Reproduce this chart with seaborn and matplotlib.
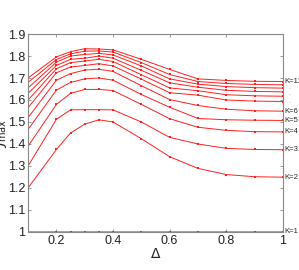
import numpy as np
import pandas as pd
import matplotlib
matplotlib.use("Agg")
import matplotlib.pyplot as plt
import seaborn as sns

# Delta sample points and J_max for each K
delta = [0.1, 0.2, 0.25, 0.3, 0.35, 0.4, 0.5, 0.6, 0.7, 0.8, 0.9, 1.0]
k_values = [1, 2, 3, 4, 5, 6, 7, 8, 9, 10, 11, 12]
j1 = [1.0, 1.0, 1.0, 1.0, 1.0, 1.0, 1.0, 1.0, 1.0, 1.0, 1.0, 1.0]
j2 = [1.20, 1.375, 1.45, 1.49, 1.51, 1.50, 1.424, 1.342, 1.289, 1.261, 1.251, 1.249]
j3 = [1.30, 1.512, 1.555, 1.556, 1.556, 1.555, 1.50, 1.43, 1.40, 1.38, 1.375, 1.374]
j4 = [1.39, 1.58, 1.63, 1.648, 1.648, 1.643, 1.58, 1.515, 1.476, 1.462, 1.456, 1.455]
j5 = [1.466, 1.645, 1.68, 1.696, 1.70, 1.69, 1.625, 1.567, 1.516, 1.51, 1.508, 1.507]
j6 = [1.52, 1.69, 1.72, 1.736, 1.74, 1.73, 1.665, 1.602, 1.575, 1.558, 1.551, 1.549]
j7 = [1.565, 1.724, 1.75, 1.757, 1.765, 1.755, 1.695, 1.633, 1.622, 1.60, 1.595, 1.593]
j8 = [1.60, 1.742, 1.77, 1.777, 1.785, 1.775, 1.715, 1.655, 1.642, 1.624, 1.619, 1.617]
j9 = [1.63, 1.757, 1.785, 1.79, 1.80, 1.79, 1.735, 1.678, 1.658, 1.644, 1.639, 1.637]
j10 = [1.655, 1.772, 1.80, 1.807, 1.812, 1.805, 1.755, 1.696, 1.672, 1.661, 1.656, 1.654]
j11 = [1.68, 1.784, 1.81, 1.822, 1.823, 1.818, 1.77, 1.716, 1.684, 1.675, 1.671, 1.669]
j12 = [1.70, 1.796, 1.82, 1.833, 1.832, 1.828, 1.785, 1.739, 1.696, 1.689, 1.685, 1.684]
curves = [j1, j2, j3, j4, j5, j6, j7, j8, j9, j10, j11, j12]

df = pd.DataFrame({
    "delta": np.tile(delta, len(k_values)),
    "J": np.concatenate(curves),
    "K": np.repeat(k_values, len(delta)),
})

sns.set_style("ticks")
plt.rcParams["font.family"] = ["Liberation Sans", "DejaVu Sans"]

fig = plt.figure(figsize=(2.99, 2.70), dpi=100)
ax = fig.add_axes([0.094, 0.141, 0.852, 0.733])

sns.lineplot(data=df, x="delta", y="J", units="K", estimator=None,
             color="#ff2020", linewidth=0.7, marker="s", markersize=1.8,
             markeredgewidth=0, ax=ax, legend=False)
ax.plot(delta, j1, color="#ff8080", linewidth=2.2, zorder=1)

ax.set_xlim(0.1, 1.0)
ax.set_ylim(1.0, 1.9)
ax.set_xticks([0.2, 0.4, 0.6, 0.8, 1.0])
ax.set_xticklabels(["0.2", "0.4", "0.6", "0.8", "1"])
ax.set_yticks([1.0, 1.1, 1.2, 1.3, 1.4, 1.5, 1.6, 1.7, 1.8, 1.9])
ax.set_yticklabels(["1", "1.1", "1.2", "1.3", "1.4", "1.5", "1.6", "1.7", "1.8", "1.9"])
ax.tick_params(direction="in", length=2.5, width=0.6, colors="#888888",
               labelcolor="#222222", labelsize=9, top=True, right=True, pad=2)
for s in ax.spines.values():
    s.set_color("#888888")
    s.set_linewidth(0.8)

ax.set_xlabel(r"$\Delta$", fontsize=10, labelpad=0)
ax.set_ylabel(r"$J_{\max}$", fontsize=10, family="serif", labelpad=-1)

# curve labels on the right
for k, curve in zip(k_values, curves):
    if k in (1, 2, 3, 4, 5, 6, 12):
        ax.text(1.005, curve[-1], f"K={k}", fontsize=5.5, va="center",
                ha="left", transform=ax.get_yaxis_transform(), clip_on=False)
for yy in (1.655, 1.628, 1.595):
    ax.text(1.02, yy, ".", fontsize=5, color="#aaaaaa", va="center",
            transform=ax.get_yaxis_transform(), clip_on=False)

fig.savefig("out.png", dpi=100)
